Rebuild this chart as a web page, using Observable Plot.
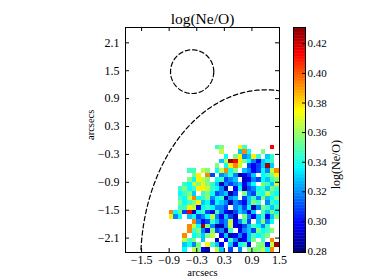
<!DOCTYPE html>
<html><head><meta charset="utf-8">
<script src="https://cdn.jsdelivr.net/npm/d3@7"></script>
<script src="https://cdn.jsdelivr.net/npm/@observablehq/plot@0.6"></script>
<style>
html,body{margin:0;padding:0;background:#fff;}
#wrap{position:relative;width:374px;height:280px;overflow:hidden;}
#wrap svg{position:absolute;top:0;}
</style></head><body><div id="wrap"></div>
<script>
// ---- data ----
const xTicks = [-1.5, -0.9, -0.3, 0.3, 0.9, 1.5];
const yTicks = [2.1, 1.5, 0.9, 0.3, -0.3, -0.9, -1.5, -2.1];
const cbTicks = [0.28, 0.30, 0.32, 0.34, 0.36, 0.38, 0.40, 0.42];
const valueRange = [0.279, 0.431];
const xDomain = [-1.85, 1.5];
const yDomain = [-2.41, 2.43];
// colour levels of the map cells (log(Ne/O))
const levels = {N:0.287, B:0.297, b:0.308, z:0.318, c:0.328, C:0.336, a:0.345, g:0.355, y:0.365, Y:0.376, o:0.392, r:0.412, R:0.426};
const pixelSize = 0.1;   // arcsec per map pixel
const gridLeft = -0.9;   // left edge of first column (arcsec)
const gridTop = -0.1;    // top edge of first row (arcsec)
const rows = [
  "..........ag...Ya.....r.",
  "...........y...coC..g...",
  "............C.gYzcYa.ca.",
  "...........cyRrYgCzBcCa.",
  "..........g.CYoy.bBbcRc.",
  "....aa.yg.CyoCg.czBbCzyo",
  ".....gY.ob.zcazNBbc.CagY",
  "....gCYyg.Cabzc.NBzbCcag",
  "...aCygYgacNzbzcBzC.gacy",
  "..agCaYYyaCzN.BCNbzCacga",
  "..Cagc.agCbzcNb.gzbaCyaC",
  "..aCyoCagzCaNzc.bcazgcCg",
  "..gCagYcCbCczNzbBcga.zaC",
  "..aaYyBCaCzzb.zcbCNzgaca",
  "oCgbrNCabBazBNbczBc.acgC",
  "YzC.cCbzCyzBcbN.gzBcaBcg",
  ".....ozBbacbzyBzab.cgzC.",
  "....oyCRgzNNzyBNbcaCza..",
  "....oagzBgbzNa.BzcbgCag.",
  "...o.Cacgy.BcNBzBcaCag..",
  "...yag.c..N.BazNBcg.a.o.",
  "...cCzg.YacB.cBCaB.ggByR",
  "...C.ygBN.yc.b.z.gggyCo."
];
// dashed apertures (arcsec)
const apertures = [
  {id: "circle", cx: -0.40, cy: 1.48, rx: 0.47, ry: 0.47},
  {id: "ellipse", cx: 1.2, cy: -2.6, rx: 2.72, ry: 3.69}
];

// ---- build tables ----
const cells = [];
rows.forEach((row, i) => {
  [...row].forEach((ch, j) => {
    if (ch === ".") return;
    cells.push({
      x1: gridLeft + j * pixelSize, x2: gridLeft + (j + 1) * pixelSize,
      y1: gridTop - (i + 1) * pixelSize, y2: gridTop - i * pixelSize,
      v: levels[ch]
    });
  });
});
const outline = apertures.flatMap(a => d3.range(0, 362, 2).map(deg => {
  const t = deg * Math.PI / 180;
  return {id: a.id, x: a.cx + a.rx * Math.cos(t), y: a.cy + a.ry * Math.sin(t)};
}));

function jet(t) {
  const cl = v => Math.max(0, Math.min(1, v));
  const r = cl(1.5 - Math.abs(4 * t - 3));
  const g = cl(1.5 - Math.abs(4 * t - 2));
  const b = cl(1.5 - Math.abs(4 * t - 1));
  return `rgb(${Math.round(r * 255)},${Math.round(g * 255)},${Math.round(b * 255)})`;
}
const colorScale = {type: "linear", domain: valueRange, interpolate: jet};
const fmt1 = d3.format(".1f");
const font = "'Liberation Serif', 'DejaVu Serif', serif";

const W = 374, H = 280, mL = 125, mR = 95, mT = 27, mB = 28;
const innerW = W - mL - mR, innerH = H - mT - mB;
const tickLen = 4;

const main = Plot.plot({
  width: W, height: H, marginLeft: mL, marginRight: mR, marginTop: mT, marginBottom: mB,
  x: {domain: xDomain},
  y: {domain: yDomain},
  color: colorScale,
  style: {fontFamily: font, fontSize: "12px", background: "transparent", color: "#000"},
  marks: [
    Plot.rect(cells, {x1: "x1", x2: "x2", y1: "y1", y2: "y2", fill: "v", shapeRendering: "crispEdges"}),
    Plot.line(outline, {x: "x", y: "y", z: "id", stroke: "#000", strokeWidth: 1.2, strokeDasharray: "4.5,2.8", clip: true}),
    Plot.frame({stroke: "#000", strokeWidth: 1}),
    Plot.tickX(xTicks, {x: d => d, insetTop: innerH - tickLen, stroke: "#000"}),
    Plot.tickX(xTicks, {x: d => d, insetBottom: innerH - tickLen, stroke: "#000"}),
    Plot.tickY(yTicks, {y: d => d, insetRight: innerW - tickLen, stroke: "#000"}),
    Plot.tickY(yTicks, {y: d => d, insetLeft: innerW - tickLen, stroke: "#000"}),
    Plot.axisX({ticks: xTicks, tickSize: 0, tickPadding: 3, tickFormat: fmt1, label: null}),
    Plot.axisY({ticks: yTicks, tickSize: 0, tickPadding: 6, tickFormat: fmt1, label: null}),
    Plot.text(["arcsecs"], {text: d => d, frameAnchor: "bottom", dy: 20.5, lineAnchor: "middle", fontSize: 10.5}),
    Plot.text(["arcsecs"], {text: d => d, frameAnchor: "left", dx: -35, rotate: -90, fontSize: 10.5}),
    Plot.text(["log(Ne/O)"], {text: d => d, frameAnchor: "top", dy: -15, fontSize: 15.5})
  ]
});

const cbLeft = 293, cbW = 12;
const cbStep = 0.001;
const cbStops = d3.range(valueRange[0], valueRange[1], cbStep);
const cb = Plot.plot({
  width: W - cbLeft, height: H, marginLeft: 0, marginRight: W - cbLeft - cbW, marginTop: mT, marginBottom: mB,
  x: {domain: [0, 1], axis: null},
  y: {domain: valueRange},
  color: colorScale,
  style: {fontFamily: font, fontSize: "11px", background: "transparent", color: "#000"},
  marks: [
    Plot.rect(cbStops, {x1: 0, x2: 1, y1: d => d, y2: d => Math.min(valueRange[1], d + cbStep * 1.3), fill: d => d}),
    Plot.frame({stroke: "#000", strokeWidth: 1}),
    Plot.tickY(cbTicks, {y: d => d, insetLeft: cbW - 3, stroke: "#000"}),
    Plot.axisY({anchor: "right", ticks: cbTicks, tickSize: 0, tickPadding: 2, tickFormat: d3.format(".2f"), label: null}),
    Plot.text(["log(Ne/O)"], {text: d => d, frameAnchor: "right", dx: 31, rotate: -90, fontSize: 12})
  ]
});

const wrap = document.getElementById("wrap");
main.style.left = "0px";
cb.style.left = cbLeft + "px";
wrap.appendChild(main);
wrap.appendChild(cb);
</script>
</body></html>
